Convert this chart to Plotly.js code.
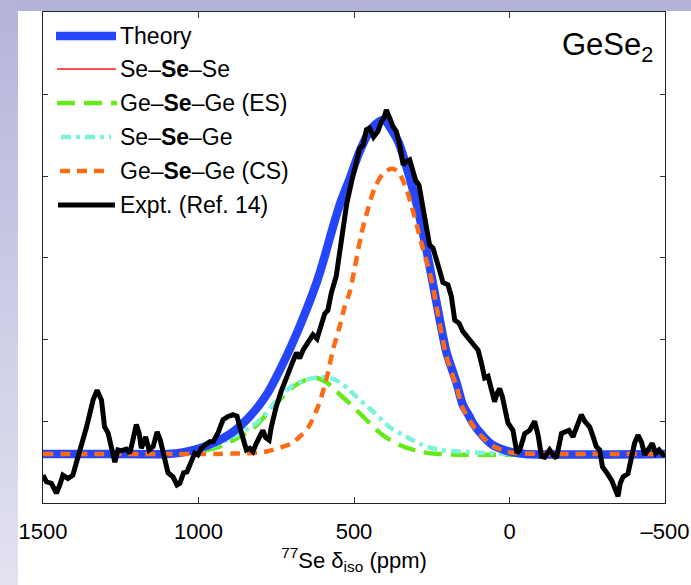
<!DOCTYPE html>
<html>
<head>
<meta charset="utf-8">
<script src="https://cdn.plot.ly/plotly-3.0.1.min.js"></script>
<style>
  html, body { margin: 0; padding: 0; background: #ffffff; }
  #frame { position: relative; width: 691px; height: 585px; overflow: hidden; background: #ffffff; }
  #bandTop { position: absolute; left: 0; top: 0; width: 691px; height: 11px; background: #b4b4d9; }
  #bandLeft { position: absolute; left: 0; top: 0; width: 18px; height: 585px;
              background: linear-gradient(to bottom, #b4b4d9 0%, #c9c9e5 45%, #e2e2f1 100%); }
  #chart { position: absolute; left: 0; top: 0; width: 691px; height: 585px; }
</style>
</head>
<body>
<div id="frame">
  <div id="bandTop"></div>
  <div id="bandLeft"></div>
  <div id="chart"></div>
</div>
<script>
// 77Se isotropic chemical shift spectra of glassy GeSe2 (arbitrary intensity units)

// Theory (sum of environments)
const theoryPpm = [1500, 1300, 1100, 1050, 996, 943, 889, 835, 782, 728, 675, 621, 594, 578, 546, 514, 482, 450, 418, 402, 386, 364, 353, 321, 300, 267, 246, 225, 203, 171, 150, 129, 118, 85, 54, 10, -11, -50, -500];
const theoryVal = [0, 0, 0, 0.02, 0.07, 0.15, 0.27, 0.46, 0.72, 1.11, 1.56, 2.09, 2.42, 2.64, 3.05, 3.37, 3.70, 3.95, 4.07, 4.09, 4.01, 3.87, 3.78, 3.38, 3.08, 2.50, 2.08, 1.66, 1.25, 0.88, 0.60, 0.46, 0.38, 0.22, 0.11, 0.04, 0.02, 0, 0];

// Se-Se-Se: no such sites in stoichiometric GeSe2, the series is empty
const sesese_ppm = [];
const sesese_val = [];

// Ge-Se-Ge (edge-sharing)
const esPpm = [1500, 1060, 996, 932, 868, 820, 782, 739, 696, 653, 621, 589, 557, 546, 514, 450, 407, 353, 289, 225, -500];
const esVal = [0, 0, 0.03, 0.09, 0.21, 0.33, 0.48, 0.66, 0.82, 0.91, 0.93, 0.88, 0.77, 0.73, 0.62, 0.38, 0.23, 0.11, 0.03, 0, 0];

// Se-Se-Ge
const seseGePpm = [1500, 1060, 996, 932, 868, 814, 782, 739, 696, 653, 608, 578, 546, 514, 492, 439, 386, 332, 280, 225, 161, 64, -11, -500];
const seseGeVal = [0, 0, 0.04, 0.13, 0.25, 0.38, 0.50, 0.70, 0.84, 0.91, 0.94, 0.93, 0.88, 0.78, 0.70, 0.52, 0.33, 0.21, 0.11, 0.05, 0.03, 0.01, 0, 0];

// Ge-Se-Ge (corner-sharing)
const csPpm = [1500, 1000, 940, 889, 835, 782, 728, 701, 675, 648, 621, 605, 584, 568, 546, 530, 514, 498, 477, 455, 434, 407, 380, 359, 332, 316, 298, 279, 257, 241, 225, 203, 171, 150, 118, 85, 54, 10, -30, -500];
const csVal = [0, 0, 0, 0.005, 0.01, 0.03, 0.09, 0.13, 0.21, 0.32, 0.53, 0.70, 0.99, 1.27, 1.56, 1.80, 1.98, 2.27, 2.68, 3.00, 3.25, 3.43, 3.49, 3.46, 3.25, 3.05, 2.80, 2.52, 2.23, 1.94, 1.60, 1.20, 0.83, 0.56, 0.35, 0.20, 0.10, 0.03, 0.01, 0];

// Experiment (Ref. 14)
const exptPpm = [1500, 1489, 1473, 1457, 1446, 1436, 1420, 1404, 1393, 1377, 1360, 1339, 1326, 1312, 1302, 1291, 1280, 1269, 1259, 1248, 1232, 1221, 1211, 1200, 1191, 1184, 1170, 1159, 1146, 1133, 1123, 1112, 1098, 1082, 1069, 1060, 1048, 1037, 1023, 1012, 1002, 991, 975, 964, 953, 937, 921, 905, 889, 876, 862, 846, 835, 825, 814, 803, 793, 784, 773, 766, 750, 733, 717, 701, 685, 675, 664, 648, 632, 619, 608, 594, 584, 573, 557, 541, 524, 508, 492, 482, 471, 460, 450, 437, 423, 412, 404, 396, 385, 375, 364, 353, 342, 332, 321, 312, 302, 291, 280, 267, 257, 246, 235, 225, 214, 198, 187, 176, 162, 150, 133, 117, 101, 90, 80, 69, 58, 48, 40, 32, 23, 16, 5, -11, -24, -33, -49, -65, -81, -92, -103, -113, -129, -140, -151, -167, -177, -191, -204, -215, -231, -242, -258, -269, -279, -290, -299, -311, -328, -341, -349, -356, -365, -381, -392, -402, -413, -424, -435, -449, -459, -470, -481, -494, -500];
const exptVal = [-0.26, -0.34, -0.36, -0.48, -0.38, -0.26, -0.30, -0.26, -0.11, 0.09, 0.33, 0.66, 0.78, 0.66, 0.33, 0.26, 0.09, -0.10, 0.05, 0.04, 0.06, 0.01, 0.17, 0.36, 0.26, 0.07, 0.21, 0.05, 0.09, 0.27, 0.17, -0.04, -0.23, -0.28, -0.38, -0.36, -0.23, -0.22, -0.11, 0.01, -0.01, 0.07, 0.12, 0.15, 0.15, 0.26, 0.42, 0.46, 0.48, 0.46, 0.26, 0.05, 0.07, 0.03, 0.13, 0.21, 0.29, 0.20, 0.17, 0.33, 0.58, 0.78, 0.95, 1.09, 1.24, 1.17, 1.27, 1.37, 1.46, 1.41, 1.56, 1.72, 1.76, 1.97, 2.18, 2.60, 3.05, 3.33, 3.58, 3.74, 3.78, 3.97, 3.99, 3.88, 3.95, 4.07, 4.11, 4.21, 4.11, 4.01, 3.95, 3.78, 3.54, 3.58, 3.60, 3.48, 3.35, 3.29, 3.05, 2.72, 2.56, 2.52, 2.40, 2.25, 2.10, 2.07, 1.93, 1.64, 1.60, 1.50, 1.42, 1.35, 1.27, 1.11, 0.93, 0.95, 0.80, 0.64, 0.74, 0.80, 0.70, 0.54, 0.38, 0.29, 0.01, 0.05, 0.25, 0.29, 0.40, 0.23, -0.03, -0.04, 0.05, -0.01, -0.05, 0.25, 0.27, 0.29, 0.21, 0.31, 0.48, 0.40, 0.33, 0.21, 0.09, 0.05, -0.16, -0.22, -0.32, -0.44, -0.52, -0.36, -0.28, -0.24, -0.07, 0.13, 0.23, 0.15, -0.01, 0.09, 0.13, 0.01, 0.05, -0.01, 0];

// Axis tick values and labels
const xTickVals = [1500, 1000, 500, 0, -500];
const xTickText = ['1500', '1000', '500', '0', '\u2013500'];

// Legend entries
const legendNames = ['Theory', 'Se\u2013<b>Se</b>\u2013Se', 'Ge\u2013<b>Se</b>\u2013Ge (ES)', 'Se\u2013<b>Se</b>\u2013Ge', 'Ge\u2013<b>Se</b>\u2013Ge (CS)', 'Expt. (Ref. 14)'];

const FONT = 'Liberation Sans, Arial, Helvetica, sans-serif';
const C_THEORY = '#2646fb';
const C_RED = '#ff1a1a';
const C_ES = '#66e819';
const C_SSG = '#7af2dc';
const C_CS = '#ff6a14';
const C_EXPT = '#000000';

const styles = [
  {color: C_THEORY, width: 8.5, dash: 'solid'},
  {color: C_RED, width: 1.6, dash: 'solid'},
  {color: C_ES, width: 4.5, dash: '18px,9px'},
  {color: C_SSG, width: 4.5, dash: '10px,5px,4px,5px'},
  {color: C_CS, width: 4.5, dash: '10px,7px'},
  {color: C_EXPT, width: 5, dash: 'solid'}
];

const traces = [
  {x: sesese_ppm, y: sesese_val, mode: 'lines', name: legendNames[1], line: {color: C_RED, width: 1.6}},
  {x: esPpm, y: esVal, mode: 'lines', name: legendNames[2], line: {color: C_ES, width: 4.5, dash: '18px,9px', shape: 'spline', smoothing: 0.8}},
  {x: seseGePpm, y: seseGeVal, mode: 'lines', name: legendNames[3], line: {color: C_SSG, width: 4.5, dash: '10px,5px,4px,5px', shape: 'spline', smoothing: 0.8}},
  {x: theoryPpm, y: theoryVal, mode: 'lines', name: legendNames[0], line: {color: C_THEORY, width: 8.5, shape: 'spline', smoothing: 0.8}},
  {x: csPpm, y: csVal, mode: 'lines', name: legendNames[4], line: {color: C_CS, width: 4.5, dash: '10px,7px', shape: 'spline', smoothing: 0.8}},
  {x: exptPpm, y: exptVal, mode: 'lines', name: legendNames[5], line: {color: C_EXPT, width: 5}}
];

// Plot-area geometry in pixels, used to place the hand-drawn legend
const W = 691, H = 585, ML = 43, MR = 26, MT = 12, MB = 82;
const PW = W - ML - MR, PH = H - MT - MB;
const px = v => (v - ML) / PW;
const py = v => (H - MB - v) / PH;

const legendRows = [36, 69, 103, 137, 171, 205];
const legendX0 = [56, 57, 57, 61, 60, 58];
const legendX1 = [116, 116, 117, 111, 111, 115];

const shapes = [];
const annotations = [];
legendRows.forEach((yy, i) => {
  const s = styles[i];
  shapes.push({
    type: 'line', xref: 'paper', yref: 'paper',
    x0: px(legendX0[i]), x1: px(legendX1[i]), y0: py(yy), y1: py(yy),
    line: {color: s.color, width: s.width, dash: s.dash}
  });
  annotations.push({
    xref: 'paper', yref: 'paper', x: px(118), y: py(yy),
    xanchor: 'left', yanchor: 'middle', showarrow: false,
    text: legendNames[i], font: {family: FONT, size: 23, color: '#000'}
  });
});

annotations.push({
  xref: 'paper', yref: 'paper', x: px(655), y: py(47),
  xanchor: 'right', yanchor: 'middle', showarrow: false,
  text: 'GeSe<sub>2</sub>', font: {family: FONT, size: 31, color: '#000'}
});

const layout = {
  width: W, height: H,
  margin: {l: ML, r: MR, t: MT, b: MB, pad: 0},
  paper_bgcolor: 'rgba(0,0,0,0)',
  plot_bgcolor: '#ffffff',
  showlegend: false,
  font: {family: FONT, color: '#000'},
  xaxis: {
    range: [1500, -500],
    tickvals: xTickVals, ticktext: xTickText,
    ticks: 'inside', ticklen: 6, tickwidth: 1, tickcolor: '#333',
    showline: true, linecolor: '#222', linewidth: 1, mirror: 'ticks',
    showgrid: false, zeroline: false,
    tickfont: {family: FONT, size: 22, color: '#000'},
    ticklabelstandoff: 9,
    title: {text: '<sup>77</sup>Se \u03b4<sub>iso</sub> (ppm)', font: {family: FONT, size: 22, color: '#000'}, standoff: 0}
  },
  yaxis: {
    range: [-0.6, 5.41],
    tick0: 0.4, dtick: 1,
    ticks: 'inside', ticklen: 5, tickwidth: 1, tickcolor: '#333',
    showticklabels: false,
    showline: true, linecolor: '#222', linewidth: 1, mirror: 'ticks',
    showgrid: false, zeroline: false
  },
  shapes: shapes,
  annotations: annotations
};

Plotly.newPlot('chart', traces, layout, {displayModeBar: false, staticPlot: true});
</script>
</body>
</html>
